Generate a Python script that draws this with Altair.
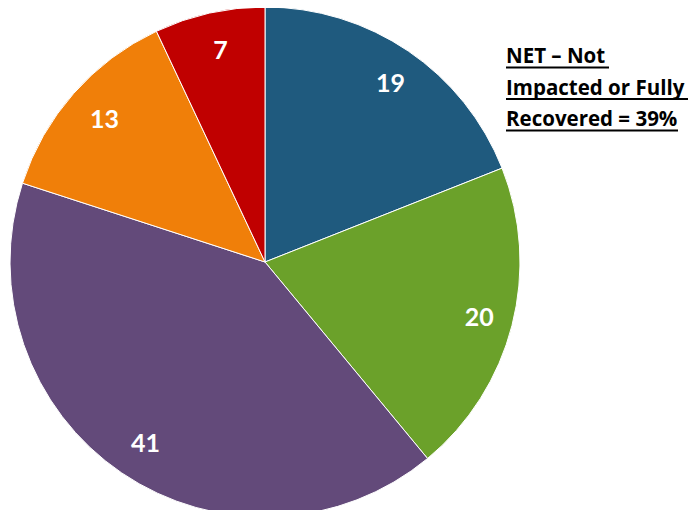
import altair as alt
import pandas as pd

categories = ["A", "B", "C", "D", "E"]
values = [19, 20, 41, 13, 7]
colors = ["#1F5A7E", "#6BA12A", "#634A7A", "#F07F09", "#C00000"]
note_lines = ["NET – Not", "Impacted or Fully", "Recovered = 39%"]

df = pd.DataFrame({"cat": categories, "value": values, "order": list(range(len(values)))})

cx, cy, R = 257, 254, 255

base = alt.Chart(df).encode(
    theta=alt.Theta("value:Q", stack=True),
    order=alt.Order("order:Q"),
    color=alt.Color("cat:N", scale=alt.Scale(domain=categories, range=colors), legend=None),
)

pie = base.mark_arc(radius=R, stroke="white", strokeWidth=1).encode(
    x=alt.value(cx), y=alt.value(cy)
)

labels = base.mark_text(
    radius=218, font="Lato", fontWeight="bold", fontSize=25, fill="white"
).encode(
    x=alt.value(cx + 3), y=alt.value(cy + 2), text=alt.Text("value:Q"), color=alt.value("white")
)

note_df = pd.DataFrame({"line": note_lines, "i": [0, 1, 2]})
note = alt.Chart(note_df).mark_text(
    align="left", baseline="alphabetic", font="Open Sans", fontWeight="bold", fontSize=20.5, color="black"
).transform_calculate(
    ypos="55 + datum.i * 31.5"
).encode(
    x=alt.value(498), y=alt.Y("ypos:Q", scale=None), text="line:N"
)

ul_df = pd.DataFrame({"i": [0, 1, 2], "w": [103, 182, 172]})
underline = alt.Chart(ul_df).mark_rule(color="black", strokeWidth=2).transform_calculate(
    ypos="59.5 + datum.i * 31.5", x1="498", x2="498 + datum.w"
).encode(
    x=alt.X("x1:Q", scale=None), x2="x2:Q", y=alt.Y("ypos:Q", scale=None)
)

chart = alt.layer(pie, labels, note, underline).properties(
    width=682, height=502, padding=0, autosize=alt.AutoSizeParams(type="none")
).configure_view(stroke=None)

chart.save("out.html", embed_options={"renderer": "svg", "actions": False})
